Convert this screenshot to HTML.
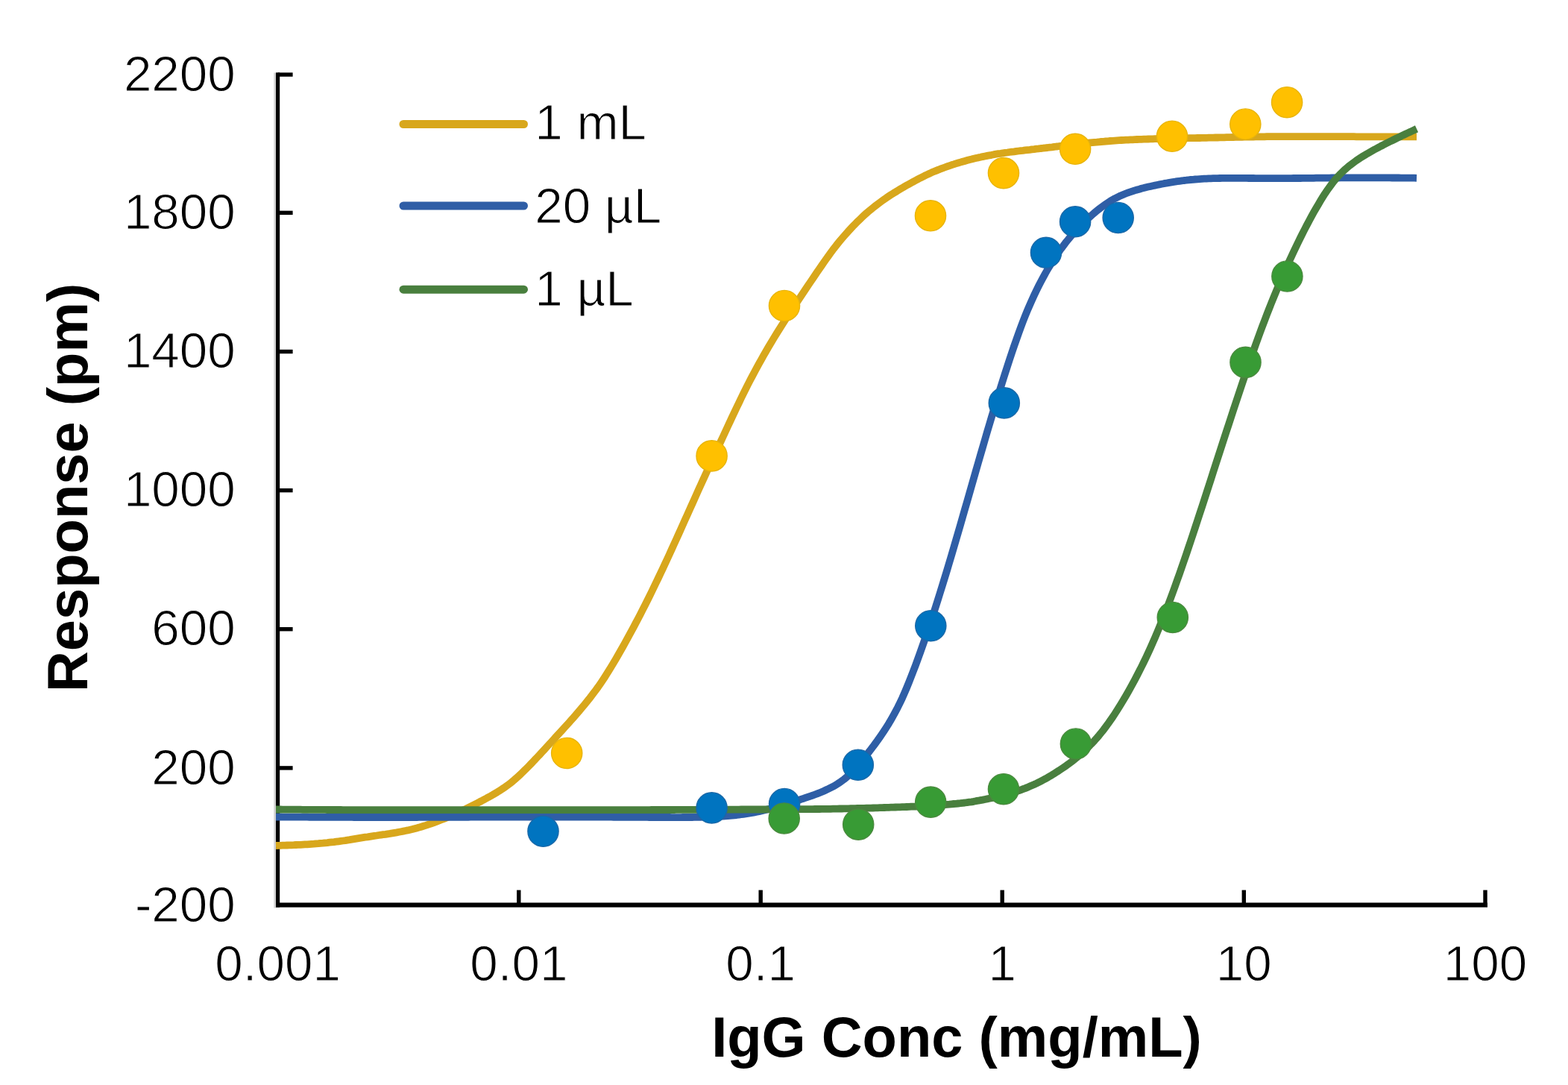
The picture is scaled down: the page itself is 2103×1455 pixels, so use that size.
<!DOCTYPE html><html><head><meta charset="utf-8"><title>IgG response chart</title><style>html,body{margin:0;padding:0;background:#fff;}svg{display:block;}text{font-family:"Liberation Sans",Arial,sans-serif;fill:#000;}text.r{stroke:#fff;stroke-width:1.1px;paint-order:fill;}</style></head><body>
<svg width="2103" height="1455" viewBox="0 0 2103 1455">
<rect x="0" y="0" width="2103" height="1455" fill="#fff"/>
<rect x="367.3" y="97.5" width="2.8" height="1120" fill="#d2d2d2"/>
<rect x="370.00" y="97.30" width="5.20" height="1119.40" fill="#000"/>
<rect x="370.00" y="1210.50" width="1625.00" height="6.20" fill="#000"/>
<rect x="372.60" y="97.35" width="20.00" height="5.40" fill="#000"/>
<rect x="372.60" y="282.65" width="20.00" height="5.40" fill="#000"/>
<rect x="372.60" y="468.80" width="20.00" height="5.40" fill="#000"/>
<rect x="372.60" y="654.90" width="20.00" height="5.40" fill="#000"/>
<rect x="372.60" y="841.00" width="20.00" height="5.40" fill="#000"/>
<rect x="372.60" y="1027.20" width="20.00" height="5.40" fill="#000"/>
<rect x="693.10" y="1193.60" width="5.40" height="20.00" fill="#000"/>
<rect x="1017.50" y="1193.60" width="5.40" height="20.00" fill="#000"/>
<rect x="1341.50" y="1193.60" width="5.40" height="20.00" fill="#000"/>
<rect x="1665.60" y="1193.60" width="5.40" height="20.00" fill="#000"/>
<rect x="1989.30" y="1193.60" width="5.40" height="20.00" fill="#000"/>
<path d="M370.0 1134.0 L373.0 1133.9 L376.0 1133.8 L379.0 1133.7 L382.0 1133.6 L385.0 1133.5 L388.0 1133.4 L391.0 1133.3 L394.0 1133.2 L397.0 1133.0 L400.0 1132.9 L403.0 1132.8 L406.0 1132.6 L409.0 1132.4 L412.0 1132.3 L415.0 1132.1 L418.0 1131.9 L421.0 1131.7 L424.0 1131.4 L427.0 1131.2 L430.0 1130.9 L433.0 1130.7 L436.0 1130.4 L439.0 1130.1 L442.0 1129.7 L445.0 1129.4 L448.0 1129.1 L451.0 1128.7 L454.0 1128.3 L457.0 1127.9 L460.0 1127.5 L463.0 1127.1 L466.0 1126.6 L469.0 1126.2 L472.0 1125.7 L475.0 1125.2 L478.0 1124.7 L481.0 1124.2 L484.0 1123.7 L487.0 1123.2 L490.0 1122.7 L493.0 1122.3 L496.0 1121.8 L499.0 1121.3 L502.0 1120.9 L505.0 1120.5 L508.0 1120.0 L511.0 1119.6 L514.0 1119.2 L517.0 1118.8 L520.0 1118.3 L523.0 1117.9 L526.0 1117.4 L529.0 1116.9 L532.0 1116.4 L535.0 1115.8 L538.0 1115.2 L541.0 1114.6 L544.0 1114.0 L547.0 1113.4 L550.0 1112.7 L553.0 1112.0 L556.0 1111.2 L559.0 1110.4 L562.0 1109.6 L565.0 1108.7 L568.0 1107.8 L571.0 1106.9 L574.0 1105.9 L577.0 1104.9 L580.0 1103.8 L583.0 1102.8 L586.0 1101.6 L589.0 1100.5 L592.0 1099.3 L595.0 1098.1 L598.0 1096.9 L601.0 1095.6 L604.0 1094.3 L607.0 1093.0 L610.0 1091.6 L613.0 1090.3 L616.0 1088.9 L619.0 1087.5 L622.0 1086.0 L625.0 1084.6 L628.0 1083.1 L631.0 1081.6 L634.0 1080.1 L637.0 1078.6 L640.0 1077.1 L643.0 1075.5 L646.0 1074.0 L649.0 1072.4 L652.0 1070.8 L655.0 1069.1 L658.0 1067.5 L661.0 1065.8 L664.0 1064.0 L667.0 1062.2 L670.0 1060.3 L673.0 1058.4 L676.0 1056.4 L679.0 1054.3 L682.0 1052.1 L685.0 1049.8 L688.0 1047.4 L691.0 1044.8 L694.0 1042.1 L697.0 1039.3 L700.0 1036.5 L703.0 1033.6 L706.0 1030.6 L709.0 1027.6 L712.0 1024.5 L715.0 1021.4 L718.0 1018.2 L721.0 1015.0 L724.0 1011.8 L727.0 1008.5 L730.0 1005.3 L733.0 1002.0 L736.0 998.7 L739.0 995.5 L742.0 992.2 L745.0 988.9 L748.0 985.6 L751.0 982.4 L754.0 979.1 L757.0 975.8 L760.0 972.5 L763.0 969.2 L766.0 965.8 L769.0 962.4 L772.0 959.0 L775.0 955.5 L778.0 952.0 L781.0 948.4 L784.0 944.8 L787.0 941.1 L790.0 937.4 L793.0 933.5 L796.0 929.6 L799.0 925.6 L802.0 921.5 L805.0 917.2 L808.0 912.8 L811.0 908.2 L814.0 903.4 L817.0 898.6 L820.0 893.7 L823.0 888.7 L826.0 883.7 L829.0 878.5 L832.0 873.3 L835.0 868.0 L838.0 862.7 L841.0 857.2 L844.0 851.7 L847.0 846.2 L850.0 840.6 L853.0 834.9 L856.0 829.2 L859.0 823.4 L862.0 817.6 L865.0 811.7 L868.0 805.7 L871.0 799.7 L874.0 793.6 L877.0 787.4 L880.0 781.2 L883.0 775.0 L886.0 768.7 L889.0 762.3 L892.0 755.9 L895.0 749.5 L898.0 743.0 L901.0 736.4 L904.0 729.8 L907.0 723.2 L910.0 716.6 L913.0 709.9 L916.0 703.3 L919.0 696.6 L922.0 689.9 L925.0 683.2 L928.0 676.6 L931.0 669.9 L934.0 663.3 L937.0 656.6 L940.0 650.0 L943.0 643.4 L946.0 636.9 L949.0 630.3 L952.0 623.8 L955.0 617.3 L958.0 610.8 L961.0 604.3 L964.0 597.9 L967.0 591.4 L970.0 585.0 L973.0 578.5 L976.0 572.0 L979.0 565.6 L982.0 559.2 L985.0 552.9 L988.0 546.5 L991.0 540.3 L994.0 534.0 L997.0 527.9 L1000.0 521.9 L1003.0 515.9 L1006.0 510.1 L1009.0 504.4 L1012.0 498.7 L1015.0 493.2 L1018.0 487.7 L1021.0 482.3 L1024.0 476.9 L1027.0 471.7 L1030.0 466.5 L1033.0 461.4 L1036.0 456.4 L1039.0 451.5 L1042.0 446.6 L1045.0 441.8 L1048.0 437.1 L1051.0 432.4 L1054.0 427.7 L1057.0 423.1 L1060.0 418.5 L1063.0 414.0 L1066.0 409.4 L1069.0 405.0 L1072.0 400.5 L1075.0 396.0 L1078.0 391.5 L1081.0 387.0 L1084.0 382.6 L1087.0 378.1 L1090.0 373.7 L1093.0 369.2 L1096.0 364.8 L1099.0 360.4 L1102.0 356.1 L1105.0 351.8 L1108.0 347.5 L1111.0 343.3 L1114.0 339.2 L1117.0 335.1 L1120.0 331.2 L1123.0 327.4 L1126.0 323.7 L1129.0 320.1 L1132.0 316.6 L1135.0 313.2 L1138.0 309.9 L1141.0 306.6 L1144.0 303.4 L1147.0 300.3 L1150.0 297.3 L1153.0 294.4 L1156.0 291.5 L1159.0 288.7 L1162.0 286.0 L1165.0 283.4 L1168.0 280.9 L1171.0 278.5 L1174.0 276.1 L1177.0 273.8 L1180.0 271.6 L1183.0 269.4 L1186.0 267.3 L1189.0 265.2 L1192.0 263.2 L1195.0 261.2 L1198.0 259.3 L1201.0 257.5 L1204.0 255.6 L1207.0 253.8 L1210.0 252.1 L1213.0 250.3 L1216.0 248.6 L1219.0 246.9 L1222.0 245.2 L1225.0 243.6 L1228.0 242.0 L1231.0 240.4 L1234.0 238.8 L1237.0 237.3 L1240.0 235.8 L1243.0 234.4 L1246.0 233.0 L1249.0 231.6 L1252.0 230.3 L1255.0 229.1 L1258.0 227.9 L1261.0 226.7 L1264.0 225.6 L1267.0 224.5 L1270.0 223.4 L1273.0 222.3 L1276.0 221.3 L1279.0 220.4 L1282.0 219.4 L1285.0 218.5 L1288.0 217.6 L1291.0 216.7 L1294.0 215.9 L1297.0 215.1 L1300.0 214.3 L1303.0 213.6 L1306.0 212.8 L1309.0 212.1 L1312.0 211.4 L1315.0 210.8 L1318.0 210.1 L1321.0 209.5 L1324.0 208.9 L1327.0 208.3 L1330.0 207.8 L1333.0 207.2 L1336.0 206.7 L1339.0 206.2 L1342.0 205.8 L1345.0 205.3 L1348.0 204.9 L1351.0 204.5 L1354.0 204.0 L1357.0 203.6 L1360.0 203.3 L1363.0 202.9 L1366.0 202.5 L1369.0 202.1 L1372.0 201.8 L1375.0 201.4 L1378.0 201.1 L1381.0 200.8 L1384.0 200.4 L1387.0 200.1 L1390.0 199.7 L1393.0 199.4 L1396.0 199.0 L1399.0 198.7 L1402.0 198.3 L1405.0 198.0 L1408.0 197.6 L1411.0 197.3 L1414.0 196.9 L1417.0 196.5 L1420.0 196.2 L1423.0 195.8 L1426.0 195.4 L1429.0 195.1 L1432.0 194.7 L1435.0 194.4 L1438.0 194.0 L1441.0 193.7 L1444.0 193.3 L1447.0 193.0 L1450.0 192.7 L1453.0 192.4 L1456.0 192.0 L1459.0 191.7 L1462.0 191.4 L1465.0 191.1 L1468.0 190.8 L1471.0 190.6 L1474.0 190.3 L1477.0 190.0 L1480.0 189.8 L1483.0 189.5 L1486.0 189.3 L1489.0 189.0 L1492.0 188.8 L1495.0 188.6 L1498.0 188.4 L1501.0 188.2 L1504.0 188.0 L1507.0 187.9 L1510.0 187.7 L1513.0 187.6 L1516.0 187.4 L1519.0 187.3 L1522.0 187.1 L1525.0 187.0 L1528.0 186.9 L1531.0 186.8 L1534.0 186.7 L1537.0 186.6 L1540.0 186.5 L1543.0 186.4 L1546.0 186.3 L1549.0 186.2 L1552.0 186.1 L1555.0 186.0 L1558.0 186.0 L1561.0 185.9 L1564.0 185.8 L1567.0 185.8 L1570.0 185.7 L1573.0 185.6 L1576.0 185.6 L1579.0 185.5 L1582.0 185.5 L1585.0 185.4 L1588.0 185.4 L1591.0 185.3 L1594.0 185.2 L1597.0 185.2 L1600.0 185.1 L1603.0 185.1 L1606.0 185.0 L1609.0 185.0 L1612.0 184.9 L1615.0 184.8 L1618.0 184.8 L1621.0 184.7 L1624.0 184.7 L1627.0 184.6 L1630.0 184.5 L1633.0 184.5 L1636.0 184.4 L1639.0 184.3 L1642.0 184.3 L1645.0 184.2 L1648.0 184.1 L1651.0 184.1 L1654.0 184.0 L1657.0 183.9 L1660.0 183.9 L1663.0 183.8 L1666.0 183.8 L1669.0 183.7 L1672.0 183.7 L1675.0 183.6 L1678.0 183.5 L1681.0 183.5 L1684.0 183.4 L1687.0 183.4 L1690.0 183.4 L1693.0 183.3 L1696.0 183.3 L1699.0 183.2 L1702.0 183.2 L1705.0 183.2 L1708.0 183.2 L1711.0 183.2 L1714.0 183.1 L1717.0 183.1 L1720.0 183.1 L1723.0 183.1 L1726.0 183.1 L1729.0 183.1 L1732.0 183.1 L1735.0 183.1 L1738.0 183.1 L1741.0 183.1 L1744.0 183.1 L1747.0 183.1 L1750.0 183.1 L1753.0 183.1 L1756.0 183.1 L1759.0 183.1 L1762.0 183.1 L1765.0 183.1 L1768.0 183.1 L1771.0 183.1 L1774.0 183.1 L1777.0 183.1 L1780.0 183.1 L1783.0 183.2 L1786.0 183.2 L1789.0 183.2 L1792.0 183.2 L1795.0 183.2 L1798.0 183.2 L1801.0 183.2 L1804.0 183.2 L1807.0 183.2 L1810.0 183.2 L1813.0 183.2 L1816.0 183.2 L1819.0 183.3 L1822.0 183.3 L1825.0 183.3 L1828.0 183.3 L1831.0 183.3 L1834.0 183.3 L1837.0 183.3 L1840.0 183.3 L1843.0 183.3 L1846.0 183.3 L1849.0 183.3 L1852.0 183.3 L1855.0 183.3 L1858.0 183.3 L1861.0 183.3 L1864.0 183.3 L1867.0 183.3 L1870.0 183.3 L1873.0 183.3 L1876.0 183.3 L1879.0 183.3 L1882.0 183.3 L1885.0 183.3 L1888.0 183.3 L1891.0 183.3 L1894.0 183.3 L1897.0 183.3 L1900.0 183.3" fill="none" stroke="#D8A71C" stroke-width="9.80" stroke-linejoin="round" stroke-linecap="butt"/>
<path d="M370.0 1095.5 L373.0 1095.5 L376.0 1095.5 L379.0 1095.6 L382.0 1095.6 L385.0 1095.6 L388.0 1095.6 L391.0 1095.6 L394.0 1095.6 L397.0 1095.7 L400.0 1095.7 L403.0 1095.7 L406.0 1095.7 L409.0 1095.7 L412.0 1095.7 L415.0 1095.8 L418.0 1095.8 L421.0 1095.8 L424.0 1095.8 L427.0 1095.8 L430.0 1095.8 L433.0 1095.8 L436.0 1095.8 L439.0 1095.9 L442.0 1095.9 L445.0 1095.9 L448.0 1095.9 L451.0 1095.9 L454.0 1095.9 L457.0 1095.9 L460.0 1095.9 L463.0 1095.9 L466.0 1095.9 L469.0 1095.9 L472.0 1095.9 L475.0 1096.0 L478.0 1096.0 L481.0 1096.0 L484.0 1096.0 L487.0 1096.0 L490.0 1096.0 L493.0 1096.0 L496.0 1096.0 L499.0 1096.0 L502.0 1096.0 L505.0 1096.0 L508.0 1096.0 L511.0 1096.0 L514.0 1096.0 L517.0 1096.0 L520.0 1096.0 L523.0 1096.0 L526.0 1096.0 L529.0 1096.0 L532.0 1096.0 L535.0 1096.0 L538.0 1096.0 L541.0 1096.0 L544.0 1096.0 L547.0 1096.0 L550.0 1096.0 L553.0 1096.0 L556.0 1096.0 L559.0 1096.0 L562.0 1095.9 L565.0 1095.9 L568.0 1095.9 L571.0 1095.9 L574.0 1095.9 L577.0 1095.9 L580.0 1095.9 L583.0 1095.9 L586.0 1095.9 L589.0 1095.9 L592.0 1095.9 L595.0 1095.9 L598.0 1095.9 L601.0 1095.9 L604.0 1095.8 L607.0 1095.8 L610.0 1095.8 L613.0 1095.8 L616.0 1095.8 L619.0 1095.8 L622.0 1095.8 L625.0 1095.8 L628.0 1095.8 L631.0 1095.7 L634.0 1095.7 L637.0 1095.7 L640.0 1095.7 L643.0 1095.7 L646.0 1095.7 L649.0 1095.7 L652.0 1095.7 L655.0 1095.7 L658.0 1095.6 L661.0 1095.6 L664.0 1095.6 L667.0 1095.6 L670.0 1095.6 L673.0 1095.6 L676.0 1095.6 L679.0 1095.6 L682.0 1095.6 L685.0 1095.6 L688.0 1095.5 L691.0 1095.5 L694.0 1095.5 L697.0 1095.5 L700.0 1095.5 L703.0 1095.5 L706.0 1095.5 L709.0 1095.5 L712.0 1095.5 L715.0 1095.5 L718.0 1095.5 L721.0 1095.5 L724.0 1095.5 L727.0 1095.5 L730.0 1095.5 L733.0 1095.5 L736.0 1095.5 L739.0 1095.5 L742.0 1095.5 L745.0 1095.5 L748.0 1095.5 L751.0 1095.6 L754.0 1095.6 L757.0 1095.6 L760.0 1095.6 L763.0 1095.6 L766.0 1095.6 L769.0 1095.6 L772.0 1095.6 L775.0 1095.6 L778.0 1095.6 L781.0 1095.6 L784.0 1095.6 L787.0 1095.6 L790.0 1095.6 L793.0 1095.7 L796.0 1095.7 L799.0 1095.7 L802.0 1095.7 L805.0 1095.7 L808.0 1095.7 L811.0 1095.7 L814.0 1095.7 L817.0 1095.7 L820.0 1095.7 L823.0 1095.8 L826.0 1095.8 L829.0 1095.8 L832.0 1095.8 L835.0 1095.8 L838.0 1095.8 L841.0 1095.8 L844.0 1095.8 L847.0 1095.8 L850.0 1095.9 L853.0 1095.9 L856.0 1095.9 L859.0 1095.9 L862.0 1095.9 L865.0 1095.9 L868.0 1095.9 L871.0 1096.0 L874.0 1096.0 L877.0 1096.0 L880.0 1096.0 L883.0 1096.0 L886.0 1096.0 L889.0 1096.0 L892.0 1096.0 L895.0 1096.0 L898.0 1096.0 L901.0 1096.1 L904.0 1096.1 L907.0 1096.1 L910.0 1096.1 L913.0 1096.1 L916.0 1096.0 L919.0 1096.0 L922.0 1096.0 L925.0 1096.0 L928.0 1096.0 L931.0 1095.9 L934.0 1095.9 L937.0 1095.8 L940.0 1095.8 L943.0 1095.7 L946.0 1095.6 L949.0 1095.6 L952.0 1095.5 L955.0 1095.3 L958.0 1095.2 L961.0 1095.1 L964.0 1094.9 L967.0 1094.7 L970.0 1094.5 L973.0 1094.3 L976.0 1094.1 L979.0 1093.8 L982.0 1093.6 L985.0 1093.3 L988.0 1093.0 L991.0 1092.6 L994.0 1092.2 L997.0 1091.8 L1000.0 1091.4 L1003.0 1091.0 L1006.0 1090.5 L1009.0 1090.0 L1012.0 1089.4 L1015.0 1088.8 L1018.0 1088.2 L1021.0 1087.5 L1024.0 1086.8 L1027.0 1086.1 L1030.0 1085.3 L1033.0 1084.5 L1036.0 1083.7 L1039.0 1082.8 L1042.0 1082.0 L1045.0 1081.1 L1048.0 1080.2 L1051.0 1079.3 L1054.0 1078.4 L1057.0 1077.4 L1060.0 1076.5 L1063.0 1075.5 L1066.0 1074.6 L1069.0 1073.6 L1072.0 1072.6 L1075.0 1071.6 L1078.0 1070.7 L1081.0 1069.7 L1084.0 1068.7 L1087.0 1067.7 L1090.0 1066.6 L1093.0 1065.5 L1096.0 1064.4 L1099.0 1063.2 L1102.0 1062.0 L1105.0 1060.7 L1108.0 1059.3 L1111.0 1057.9 L1114.0 1056.4 L1117.0 1054.9 L1120.0 1053.2 L1123.0 1051.4 L1126.0 1049.4 L1129.0 1047.3 L1132.0 1045.1 L1135.0 1042.7 L1138.0 1040.0 L1141.0 1037.1 L1144.0 1033.9 L1147.0 1030.6 L1150.0 1027.3 L1153.0 1023.8 L1156.0 1020.2 L1159.0 1016.5 L1162.0 1012.7 L1165.0 1008.9 L1168.0 1005.0 L1171.0 1001.1 L1174.0 997.0 L1177.0 992.9 L1180.0 988.6 L1183.0 984.2 L1186.0 979.7 L1189.0 975.1 L1192.0 970.3 L1195.0 965.2 L1198.0 959.9 L1201.0 954.4 L1204.0 948.7 L1207.0 942.6 L1210.0 936.3 L1213.0 929.6 L1216.0 922.5 L1219.0 915.1 L1222.0 907.5 L1225.0 899.8 L1228.0 891.9 L1231.0 883.8 L1234.0 875.5 L1237.0 867.0 L1240.0 858.5 L1243.0 849.7 L1246.0 840.9 L1249.0 831.8 L1252.0 822.7 L1255.0 813.4 L1258.0 804.0 L1261.0 794.4 L1264.0 784.8 L1267.0 775.0 L1270.0 765.2 L1273.0 755.2 L1276.0 745.1 L1279.0 734.9 L1282.0 724.7 L1285.0 714.4 L1288.0 704.1 L1291.0 693.7 L1294.0 683.2 L1297.0 672.8 L1300.0 662.3 L1303.0 651.9 L1306.0 641.4 L1309.0 630.9 L1312.0 620.5 L1315.0 610.1 L1318.0 599.8 L1321.0 589.5 L1324.0 579.2 L1327.0 569.1 L1330.0 559.0 L1333.0 549.1 L1336.0 539.2 L1339.0 529.4 L1342.0 519.7 L1345.0 510.2 L1348.0 500.8 L1351.0 491.4 L1354.0 482.2 L1357.0 473.2 L1360.0 464.4 L1363.0 455.8 L1366.0 447.3 L1369.0 439.1 L1372.0 431.1 L1375.0 423.5 L1378.0 416.2 L1381.0 409.2 L1384.0 402.4 L1387.0 395.9 L1390.0 389.6 L1393.0 383.5 L1396.0 377.7 L1399.0 372.1 L1402.0 366.6 L1405.0 361.4 L1408.0 356.4 L1411.0 351.5 L1414.0 346.8 L1417.0 342.3 L1420.0 337.9 L1423.0 333.7 L1426.0 329.7 L1429.0 325.7 L1432.0 322.0 L1435.0 318.3 L1438.0 314.8 L1441.0 311.4 L1444.0 308.1 L1447.0 304.9 L1450.0 301.8 L1453.0 298.9 L1456.0 296.0 L1459.0 293.2 L1462.0 290.5 L1465.0 287.9 L1468.0 285.3 L1471.0 282.8 L1474.0 280.4 L1477.0 278.1 L1480.0 275.9 L1483.0 273.8 L1486.0 271.8 L1489.0 269.8 L1492.0 268.0 L1495.0 266.3 L1498.0 264.8 L1501.0 263.3 L1504.0 262.0 L1507.0 260.7 L1510.0 259.5 L1513.0 258.4 L1516.0 257.4 L1519.0 256.4 L1522.0 255.4 L1525.0 254.5 L1528.0 253.7 L1531.0 252.8 L1534.0 252.1 L1537.0 251.3 L1540.0 250.6 L1543.0 249.9 L1546.0 249.2 L1549.0 248.6 L1552.0 248.0 L1555.0 247.4 L1558.0 246.8 L1561.0 246.2 L1564.0 245.7 L1567.0 245.1 L1570.0 244.6 L1573.0 244.1 L1576.0 243.7 L1579.0 243.2 L1582.0 242.8 L1585.0 242.4 L1588.0 242.0 L1591.0 241.7 L1594.0 241.3 L1597.0 241.0 L1600.0 240.8 L1603.0 240.5 L1606.0 240.3 L1609.0 240.1 L1612.0 239.9 L1615.0 239.7 L1618.0 239.6 L1621.0 239.4 L1624.0 239.3 L1627.0 239.2 L1630.0 239.1 L1633.0 239.1 L1636.0 239.0 L1639.0 238.9 L1642.0 238.9 L1645.0 238.9 L1648.0 238.9 L1651.0 238.9 L1654.0 238.9 L1657.0 238.9 L1660.0 238.9 L1663.0 238.9 L1666.0 238.9 L1669.0 238.9 L1672.0 238.9 L1675.0 239.0 L1678.0 239.0 L1681.0 239.0 L1684.0 239.1 L1687.0 239.1 L1690.0 239.1 L1693.0 239.1 L1696.0 239.1 L1699.0 239.2 L1702.0 239.2 L1705.0 239.2 L1708.0 239.2 L1711.0 239.2 L1714.0 239.2 L1717.0 239.2 L1720.0 239.1 L1723.0 239.1 L1726.0 239.1 L1729.0 239.1 L1732.0 239.1 L1735.0 239.0 L1738.0 239.0 L1741.0 239.0 L1744.0 239.0 L1747.0 238.9 L1750.0 238.9 L1753.0 238.9 L1756.0 238.8 L1759.0 238.8 L1762.0 238.8 L1765.0 238.7 L1768.0 238.7 L1771.0 238.7 L1774.0 238.6 L1777.0 238.6 L1780.0 238.6 L1783.0 238.6 L1786.0 238.5 L1789.0 238.5 L1792.0 238.5 L1795.0 238.5 L1798.0 238.4 L1801.0 238.4 L1804.0 238.4 L1807.0 238.4 L1810.0 238.4 L1813.0 238.4 L1816.0 238.3 L1819.0 238.3 L1822.0 238.3 L1825.0 238.3 L1828.0 238.3 L1831.0 238.3 L1834.0 238.3 L1837.0 238.3 L1840.0 238.3 L1843.0 238.3 L1846.0 238.3 L1849.0 238.4 L1852.0 238.4 L1855.0 238.4 L1858.0 238.4 L1861.0 238.4 L1864.0 238.4 L1867.0 238.5 L1870.0 238.5 L1873.0 238.5 L1876.0 238.5 L1879.0 238.6 L1882.0 238.6 L1885.0 238.6 L1888.0 238.6 L1891.0 238.7 L1894.0 238.7 L1897.0 238.7 L1900.0 238.8" fill="none" stroke="#2F5EA6" stroke-width="9.80" stroke-linejoin="round" stroke-linecap="butt"/>
<path d="M370.0 1085.5 L373.0 1085.5 L376.0 1085.5 L379.0 1085.6 L382.0 1085.6 L385.0 1085.6 L388.0 1085.6 L391.0 1085.7 L394.0 1085.7 L397.0 1085.7 L400.0 1085.7 L403.0 1085.7 L406.0 1085.8 L409.0 1085.8 L412.0 1085.8 L415.0 1085.8 L418.0 1085.8 L421.0 1085.9 L424.0 1085.9 L427.0 1085.9 L430.0 1085.9 L433.0 1085.9 L436.0 1085.9 L439.0 1086.0 L442.0 1086.0 L445.0 1086.0 L448.0 1086.0 L451.0 1086.0 L454.0 1086.0 L457.0 1086.0 L460.0 1086.1 L463.0 1086.1 L466.0 1086.1 L469.0 1086.1 L472.0 1086.1 L475.0 1086.1 L478.0 1086.1 L481.0 1086.1 L484.0 1086.1 L487.0 1086.1 L490.0 1086.1 L493.0 1086.1 L496.0 1086.1 L499.0 1086.2 L502.0 1086.2 L505.0 1086.2 L508.0 1086.2 L511.0 1086.2 L514.0 1086.2 L517.0 1086.2 L520.0 1086.2 L523.0 1086.2 L526.0 1086.2 L529.0 1086.2 L532.0 1086.2 L535.0 1086.2 L538.0 1086.2 L541.0 1086.2 L544.0 1086.2 L547.0 1086.2 L550.0 1086.2 L553.0 1086.2 L556.0 1086.2 L559.0 1086.2 L562.0 1086.2 L565.0 1086.2 L568.0 1086.2 L571.0 1086.2 L574.0 1086.2 L577.0 1086.2 L580.0 1086.2 L583.0 1086.2 L586.0 1086.2 L589.0 1086.2 L592.0 1086.2 L595.0 1086.2 L598.0 1086.2 L601.0 1086.2 L604.0 1086.2 L607.0 1086.2 L610.0 1086.2 L613.0 1086.2 L616.0 1086.2 L619.0 1086.2 L622.0 1086.2 L625.0 1086.2 L628.0 1086.2 L631.0 1086.2 L634.0 1086.2 L637.0 1086.2 L640.0 1086.2 L643.0 1086.2 L646.0 1086.2 L649.0 1086.2 L652.0 1086.2 L655.0 1086.2 L658.0 1086.2 L661.0 1086.2 L664.0 1086.2 L667.0 1086.2 L670.0 1086.2 L673.0 1086.2 L676.0 1086.2 L679.0 1086.2 L682.0 1086.2 L685.0 1086.2 L688.0 1086.2 L691.0 1086.2 L694.0 1086.2 L697.0 1086.2 L700.0 1086.2 L703.0 1086.2 L706.0 1086.2 L709.0 1086.2 L712.0 1086.2 L715.0 1086.2 L718.0 1086.2 L721.0 1086.2 L724.0 1086.2 L727.0 1086.2 L730.0 1086.2 L733.0 1086.2 L736.0 1086.2 L739.0 1086.2 L742.0 1086.2 L745.0 1086.2 L748.0 1086.2 L751.0 1086.2 L754.0 1086.2 L757.0 1086.2 L760.0 1086.2 L763.0 1086.2 L766.0 1086.2 L769.0 1086.2 L772.0 1086.2 L775.0 1086.2 L778.0 1086.2 L781.0 1086.2 L784.0 1086.2 L787.0 1086.2 L790.0 1086.2 L793.0 1086.2 L796.0 1086.1 L799.0 1086.1 L802.0 1086.1 L805.0 1086.1 L808.0 1086.1 L811.0 1086.1 L814.0 1086.1 L817.0 1086.1 L820.0 1086.1 L823.0 1086.1 L826.0 1086.1 L829.0 1086.1 L832.0 1086.1 L835.0 1086.1 L838.0 1086.1 L841.0 1086.1 L844.0 1086.1 L847.0 1086.1 L850.0 1086.1 L853.0 1086.1 L856.0 1086.1 L859.0 1086.1 L862.0 1086.1 L865.0 1086.1 L868.0 1086.1 L871.0 1086.1 L874.0 1086.0 L877.0 1086.0 L880.0 1086.0 L883.0 1086.0 L886.0 1086.0 L889.0 1086.0 L892.0 1086.0 L895.0 1086.0 L898.0 1086.0 L901.0 1086.0 L904.0 1086.0 L907.0 1085.9 L910.0 1085.9 L913.0 1085.9 L916.0 1085.9 L919.0 1085.9 L922.0 1085.9 L925.0 1085.9 L928.0 1085.9 L931.0 1085.8 L934.0 1085.8 L937.0 1085.8 L940.0 1085.8 L943.0 1085.8 L946.0 1085.8 L949.0 1085.8 L952.0 1085.7 L955.0 1085.7 L958.0 1085.7 L961.0 1085.7 L964.0 1085.7 L967.0 1085.7 L970.0 1085.7 L973.0 1085.6 L976.0 1085.6 L979.0 1085.6 L982.0 1085.6 L985.0 1085.6 L988.0 1085.6 L991.0 1085.6 L994.0 1085.5 L997.0 1085.5 L1000.0 1085.5 L1003.0 1085.5 L1006.0 1085.5 L1009.0 1085.5 L1012.0 1085.5 L1015.0 1085.5 L1018.0 1085.5 L1021.0 1085.5 L1024.0 1085.5 L1027.0 1085.4 L1030.0 1085.4 L1033.0 1085.4 L1036.0 1085.4 L1039.0 1085.4 L1042.0 1085.4 L1045.0 1085.4 L1048.0 1085.4 L1051.0 1085.4 L1054.0 1085.3 L1057.0 1085.3 L1060.0 1085.3 L1063.0 1085.3 L1066.0 1085.3 L1069.0 1085.3 L1072.0 1085.2 L1075.0 1085.2 L1078.0 1085.2 L1081.0 1085.2 L1084.0 1085.1 L1087.0 1085.1 L1090.0 1085.1 L1093.0 1085.0 L1096.0 1085.0 L1099.0 1085.0 L1102.0 1084.9 L1105.0 1084.9 L1108.0 1084.8 L1111.0 1084.8 L1114.0 1084.8 L1117.0 1084.7 L1120.0 1084.7 L1123.0 1084.6 L1126.0 1084.5 L1129.0 1084.5 L1132.0 1084.4 L1135.0 1084.4 L1138.0 1084.3 L1141.0 1084.2 L1144.0 1084.2 L1147.0 1084.1 L1150.0 1084.0 L1153.0 1084.0 L1156.0 1083.9 L1159.0 1083.8 L1162.0 1083.7 L1165.0 1083.6 L1168.0 1083.6 L1171.0 1083.5 L1174.0 1083.4 L1177.0 1083.3 L1180.0 1083.2 L1183.0 1083.1 L1186.0 1083.0 L1189.0 1082.9 L1192.0 1082.8 L1195.0 1082.7 L1198.0 1082.6 L1201.0 1082.5 L1204.0 1082.4 L1207.0 1082.3 L1210.0 1082.2 L1213.0 1082.1 L1216.0 1082.0 L1219.0 1081.9 L1222.0 1081.7 L1225.0 1081.6 L1228.0 1081.5 L1231.0 1081.3 L1234.0 1081.2 L1237.0 1081.0 L1240.0 1080.8 L1243.0 1080.7 L1246.0 1080.5 L1249.0 1080.3 L1252.0 1080.1 L1255.0 1079.9 L1258.0 1079.7 L1261.0 1079.5 L1264.0 1079.3 L1267.0 1079.0 L1270.0 1078.8 L1273.0 1078.6 L1276.0 1078.3 L1279.0 1078.0 L1282.0 1077.8 L1285.0 1077.5 L1288.0 1077.2 L1291.0 1076.8 L1294.0 1076.5 L1297.0 1076.1 L1300.0 1075.7 L1303.0 1075.3 L1306.0 1074.8 L1309.0 1074.2 L1312.0 1073.7 L1315.0 1073.1 L1318.0 1072.6 L1321.0 1072.0 L1324.0 1071.4 L1327.0 1070.8 L1330.0 1070.2 L1333.0 1069.6 L1336.0 1068.9 L1339.0 1068.2 L1342.0 1067.5 L1345.0 1066.7 L1348.0 1065.9 L1351.0 1065.1 L1354.0 1064.2 L1357.0 1063.3 L1360.0 1062.4 L1363.0 1061.4 L1366.0 1060.4 L1369.0 1059.3 L1372.0 1058.2 L1375.0 1057.1 L1378.0 1055.9 L1381.0 1054.6 L1384.0 1053.3 L1387.0 1052.0 L1390.0 1050.6 L1393.0 1049.1 L1396.0 1047.6 L1399.0 1046.0 L1402.0 1044.4 L1405.0 1042.7 L1408.0 1040.9 L1411.0 1039.2 L1414.0 1037.3 L1417.0 1035.4 L1420.0 1033.5 L1423.0 1031.5 L1426.0 1029.5 L1429.0 1027.4 L1432.0 1025.3 L1435.0 1023.1 L1438.0 1020.8 L1441.0 1018.4 L1444.0 1016.0 L1447.0 1013.4 L1450.0 1010.8 L1453.0 1008.1 L1456.0 1005.3 L1459.0 1002.4 L1462.0 999.4 L1465.0 996.3 L1468.0 993.1 L1471.0 989.7 L1474.0 986.2 L1477.0 982.5 L1480.0 978.8 L1483.0 974.8 L1486.0 970.7 L1489.0 966.4 L1492.0 962.1 L1495.0 957.6 L1498.0 952.9 L1501.0 948.2 L1504.0 943.3 L1507.0 938.3 L1510.0 933.2 L1513.0 928.0 L1516.0 922.6 L1519.0 917.1 L1522.0 911.6 L1525.0 905.9 L1528.0 900.0 L1531.0 894.1 L1534.0 888.0 L1537.0 881.8 L1540.0 875.4 L1543.0 868.9 L1546.0 862.1 L1549.0 855.2 L1552.0 848.1 L1555.0 840.9 L1558.0 833.6 L1561.0 826.0 L1564.0 818.3 L1567.0 810.4 L1570.0 802.5 L1573.0 794.4 L1576.0 786.1 L1579.0 777.7 L1582.0 769.3 L1585.0 760.7 L1588.0 752.0 L1591.0 743.3 L1594.0 734.4 L1597.0 725.5 L1600.0 716.5 L1603.0 707.4 L1606.0 698.3 L1609.0 689.1 L1612.0 679.9 L1615.0 670.7 L1618.0 661.4 L1621.0 652.2 L1624.0 642.9 L1627.0 633.6 L1630.0 624.3 L1633.0 615.1 L1636.0 605.8 L1639.0 596.5 L1642.0 587.3 L1645.0 578.1 L1648.0 568.9 L1651.0 559.8 L1654.0 550.6 L1657.0 541.5 L1660.0 532.5 L1663.0 523.5 L1666.0 514.5 L1669.0 505.6 L1672.0 496.8 L1675.0 488.1 L1678.0 479.5 L1681.0 470.9 L1684.0 462.4 L1687.0 454.1 L1690.0 445.9 L1693.0 437.8 L1696.0 429.9 L1699.0 422.1 L1702.0 414.4 L1705.0 406.8 L1708.0 399.4 L1711.0 392.1 L1714.0 384.9 L1717.0 377.8 L1720.0 370.9 L1723.0 364.0 L1726.0 357.3 L1729.0 350.6 L1732.0 344.1 L1735.0 337.7 L1738.0 331.3 L1741.0 325.1 L1744.0 319.0 L1747.0 313.0 L1750.0 307.1 L1753.0 301.4 L1756.0 295.7 L1759.0 290.1 L1762.0 284.7 L1765.0 279.5 L1768.0 274.4 L1771.0 269.3 L1774.0 264.4 L1777.0 259.7 L1780.0 255.3 L1783.0 251.1 L1786.0 247.0 L1789.0 243.1 L1792.0 239.4 L1795.0 236.1 L1798.0 232.9 L1801.0 230.0 L1804.0 227.2 L1807.0 224.6 L1810.0 222.1 L1813.0 219.8 L1816.0 217.6 L1819.0 215.4 L1822.0 213.4 L1825.0 211.4 L1828.0 209.5 L1831.0 207.7 L1834.0 205.9 L1837.0 204.2 L1840.0 202.5 L1843.0 200.8 L1846.0 199.2 L1849.0 197.6 L1852.0 196.0 L1855.0 194.5 L1858.0 192.9 L1861.0 191.4 L1864.0 189.9 L1867.0 188.5 L1870.0 187.0 L1873.0 185.5 L1876.0 184.1 L1879.0 182.7 L1882.0 181.2 L1885.0 179.8 L1888.0 178.4 L1891.0 177.0 L1894.0 175.6 L1897.0 174.2 L1900.0 172.8" fill="none" stroke="#497F3E" stroke-width="9.80" stroke-linejoin="round" stroke-linecap="butt"/>
<circle cx="760.2" cy="1010.0" r="20.60" fill="#FFC000" stroke="#E8B40A" stroke-width="1.40"/>
<circle cx="954.6" cy="611.4" r="20.60" fill="#FFC000" stroke="#E8B40A" stroke-width="1.40"/>
<circle cx="1052.0" cy="410.0" r="20.60" fill="#FFC000" stroke="#E8B40A" stroke-width="1.40"/>
<circle cx="1248.0" cy="289.3" r="20.60" fill="#FFC000" stroke="#E8B40A" stroke-width="1.40"/>
<circle cx="1346.0" cy="232.1" r="20.60" fill="#FFC000" stroke="#E8B40A" stroke-width="1.40"/>
<circle cx="1442.1" cy="199.8" r="20.60" fill="#FFC000" stroke="#E8B40A" stroke-width="1.40"/>
<circle cx="1572.0" cy="182.7" r="20.60" fill="#FFC000" stroke="#E8B40A" stroke-width="1.40"/>
<circle cx="1670.3" cy="166.5" r="20.60" fill="#FFC000" stroke="#E8B40A" stroke-width="1.40"/>
<circle cx="1726.1" cy="137.2" r="20.60" fill="#FFC000" stroke="#E8B40A" stroke-width="1.40"/>
<circle cx="728.5" cy="1114.8" r="20.60" fill="#0074C0" stroke="#1A68A8" stroke-width="1.40"/>
<circle cx="954.6" cy="1083.4" r="20.60" fill="#0074C0" stroke="#1A68A8" stroke-width="1.40"/>
<circle cx="1052.1" cy="1078.0" r="20.60" fill="#0074C0" stroke="#1A68A8" stroke-width="1.40"/>
<circle cx="1150.8" cy="1025.7" r="20.60" fill="#0074C0" stroke="#1A68A8" stroke-width="1.40"/>
<circle cx="1248.3" cy="839.2" r="20.60" fill="#0074C0" stroke="#1A68A8" stroke-width="1.40"/>
<circle cx="1346.8" cy="540.4" r="20.60" fill="#0074C0" stroke="#1A68A8" stroke-width="1.40"/>
<circle cx="1403.0" cy="338.8" r="20.60" fill="#0074C0" stroke="#1A68A8" stroke-width="1.40"/>
<circle cx="1442.1" cy="297.3" r="20.60" fill="#0074C0" stroke="#1A68A8" stroke-width="1.40"/>
<circle cx="1499.7" cy="292.0" r="20.60" fill="#0074C0" stroke="#1A68A8" stroke-width="1.40"/>
<circle cx="1051.7" cy="1097.5" r="20.60" fill="#389B35" stroke="#4A8A3E" stroke-width="1.40"/>
<circle cx="1151.2" cy="1105.6" r="20.60" fill="#389B35" stroke="#4A8A3E" stroke-width="1.40"/>
<circle cx="1248.2" cy="1075.6" r="20.60" fill="#389B35" stroke="#4A8A3E" stroke-width="1.40"/>
<circle cx="1346.0" cy="1058.2" r="20.60" fill="#389B35" stroke="#4A8A3E" stroke-width="1.40"/>
<circle cx="1442.9" cy="997.5" r="20.60" fill="#389B35" stroke="#4A8A3E" stroke-width="1.40"/>
<circle cx="1572.8" cy="828.0" r="20.60" fill="#389B35" stroke="#4A8A3E" stroke-width="1.40"/>
<circle cx="1670.5" cy="485.9" r="20.60" fill="#389B35" stroke="#4A8A3E" stroke-width="1.40"/>
<circle cx="1726.4" cy="370.5" r="20.60" fill="#389B35" stroke="#4A8A3E" stroke-width="1.40"/>
<text class="r" x="315.80" y="121.65" font-size="67.40" text-anchor="end">2200</text>
<text class="r" x="315.80" y="306.95" font-size="67.40" text-anchor="end">1800</text>
<text class="r" x="315.80" y="493.10" font-size="67.40" text-anchor="end">1400</text>
<text class="r" x="315.80" y="679.20" font-size="67.40" text-anchor="end">1000</text>
<text class="r" x="315.80" y="865.30" font-size="67.40" text-anchor="end">600</text>
<text class="r" x="315.80" y="1051.50" font-size="67.40" text-anchor="end">200</text>
<text class="r" x="315.80" y="1236.10" font-size="67.40" text-anchor="end">-200</text>
<text class="r" x="372.60" y="1315.30" font-size="67.40" text-anchor="middle">0.001</text>
<text class="r" x="695.80" y="1315.30" font-size="67.40" text-anchor="middle">0.01</text>
<text class="r" x="1020.20" y="1315.30" font-size="67.40" text-anchor="middle">0.1</text>
<text class="r" x="1344.20" y="1315.30" font-size="67.40" text-anchor="middle">1</text>
<text class="r" x="1668.30" y="1315.30" font-size="67.40" text-anchor="middle">10</text>
<text class="r" x="1992.00" y="1315.30" font-size="67.40" text-anchor="middle">100</text>
<text x="1283.00" y="1417.30" font-size="75.90" font-weight="bold" text-anchor="middle">IgG Conc (mg/mL)</text>
<text transform="translate(117.00 653.90) rotate(-90)" x="0" y="0" font-size="75.90" font-weight="bold" text-anchor="middle">Response (pm)</text>
<line x1="541.00" y1="166.50" x2="702.50" y2="166.50" stroke="#D8A71C" stroke-width="11.00" stroke-linecap="round"/>
<text class="r" x="717.20" y="187.10" font-size="67.40">1 mL</text>
<line x1="541.00" y1="276.00" x2="702.50" y2="276.00" stroke="#2F5EA6" stroke-width="11.00" stroke-linecap="round"/>
<text class="r" x="717.20" y="298.90" font-size="67.40">20 µL</text>
<line x1="541.00" y1="388.20" x2="702.50" y2="388.20" stroke="#497F3E" stroke-width="11.00" stroke-linecap="round"/>
<text class="r" x="717.20" y="409.70" font-size="67.40">1 µL</text>
</svg></body></html>
